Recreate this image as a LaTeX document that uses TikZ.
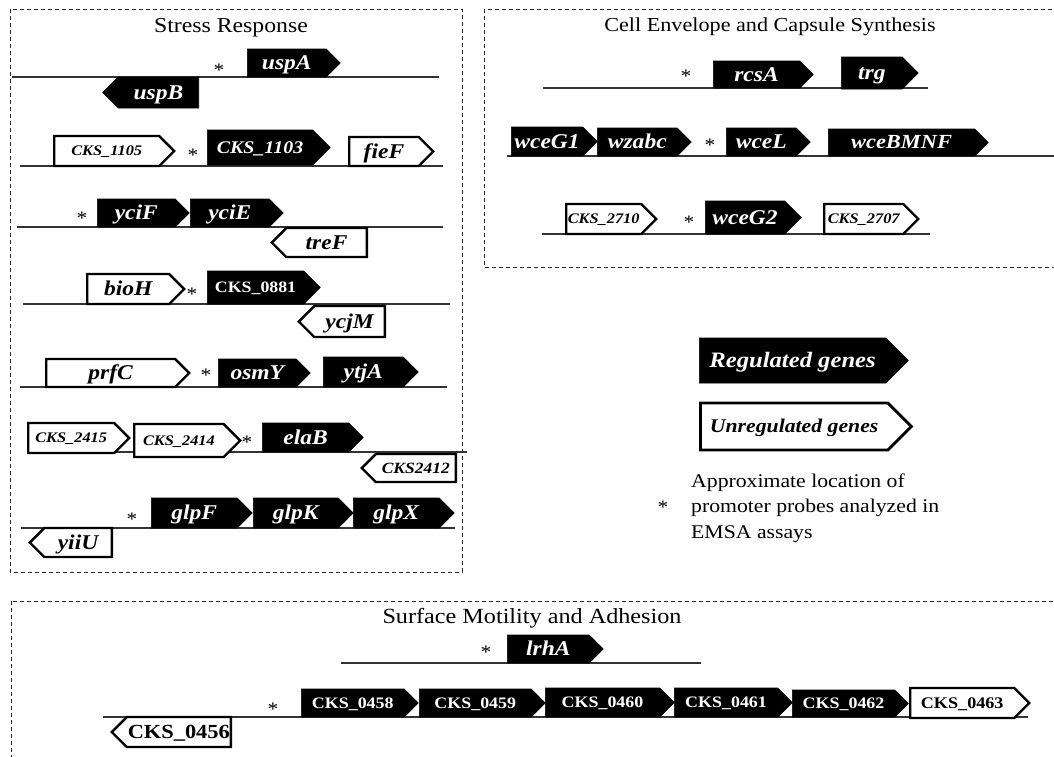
\documentclass[tikz,border=0pt]{standalone}
\usepackage{fontspec}
\setmainfont{Liberation Serif}[FakeStretch=1.12]
\usetikzlibrary{shapes.symbols}
\tikzset{
  gene/.style={signal, signal to=east, signal from=nowhere, signal pointer angle=90, inner sep=0pt, anchor=west},
  reg/.style={gene, fill=black, draw=black, line width=0.6pt, text=white},
  unreg/.style={gene, fill=white, draw=black, line width=2.4pt, text=black},
  rev/.style={signal to=west, anchor=east},
  gi/.style={font=\fontsize{#1}{#1}\selectfont\bfseries\itshape, text height=\dimexpr #1pt*72/100\relax, text depth=\dimexpr #1pt*8/100\relax},
  gb/.style={font=\fontsize{#1}{#1}\selectfont\bfseries, text height=\dimexpr #1pt*72/100\relax, text depth=\dimexpr #1pt*8/100\relax},
  dna/.style={draw=black!80, line width=1.1pt},
  panel/.style={draw=black!85, line width=0.8pt, dash pattern=on 4pt off 3pt},
  title/.style={font=\fontsize{#1}{#1}\selectfont, inner sep=0pt},
  probe/.style={font=\fontsize{19}{19}\selectfont, inner sep=0pt},
}
\begin{document}
\begin{tikzpicture}[x=1pt,y=-1pt]
\useasboundingbox (0,0) rectangle (1054,756);
\fill[white] (0,0) rectangle (1054,756);
% panels
\coordinate (p1a) at (10,9); \coordinate (p1b) at (462,572);
\coordinate (p2a) at (484,9); \coordinate (p2b) at (1070,267);
\coordinate (p3a) at (11,601); \coordinate (p3b) at (1070,770);
\draw[panel] (p1a) rectangle (p1b);
\draw[panel] (p2a) rectangle (p2b);
\draw[panel] (p3a) rectangle (p3b);
\node[title=21.2] (t1) at (231,28) {Stress Response};
\node[title=19.8] (t2) at (770,27) {Cell Envelope and Capsule Synthesis};
\node[title=21.6] (t3) at (532,618) {Surface Motility and Adhesion};
% DNA lines
\foreach \n/\xa/\xb/\yy in {r1/12/439/77, r2/20/443/166, r3/17/443/227, r4/23/450/304, r5/20/447/387, r6/27/467/452, r7/21/455/528, c1/543/928/88, c2/507/1060/156, c3/542/930/234, s1/341/701/663, s2/103/1028/717}{
  \coordinate (\n a) at (\xa,\yy);
  \coordinate (\n b) at (\xb,\yy);
  \draw[dna] (\n a) -- (\n b);
}
% Stress response
\node[probe] (a1) at (219,70) {*};
\node[reg, gi=21, minimum width=93, minimum height=28] (uspA) at (247,63) {uspA};
\node[reg, rev, gi=21, minimum width=96, minimum height=31] (uspB) at (199,92.5) {uspB};
\node[unreg, gi=14.6, minimum width=120, minimum height=30] (cks1105) at (53,151) {CKS\_1105};
\node[probe] (a2) at (193,155) {*};
\node[reg, gi=17.8, minimum width=123, minimum height=35] (cks1103) at (207,147.5) {CKS\_1103};
\node[unreg, gi=21, minimum width=84, minimum height=29] (fieF) at (348,151.5) {fieF};
\node[probe] (a3) at (82,218) {*};
\node[reg, gi=21, minimum width=92, minimum height=28] (yciF) at (97,213) {yciF};
\node[reg, gi=21, minimum width=93, minimum height=28] (yciE) at (190,213) {yciE};
\node[unreg, rev, gi=21, minimum width=95, minimum height=29] (treF) at (368,242.5) {treF};
\node[unreg, gi=21, minimum width=97, minimum height=30] (bioH) at (86,289) {bioH};
\node[probe] (a4) at (192,294) {*};
\node[reg, gb=15.9, minimum width=113, minimum height=33] (cks0881) at (207,287.5) {CKS\_0881};
\node[unreg, rev, gi=21, minimum width=86, minimum height=31] (ycjM) at (386,321.5) {ycjM};
\node[unreg, gi=21, minimum width=143, minimum height=28] (prfC) at (45,373) {prfC};
\node[probe] (a5) at (206,375) {*};
\node[reg, gi=21, minimum width=92, minimum height=28] (osmY) at (218,373) {osmY};
\node[reg, gi=21, minimum width=95, minimum height=30] (ytjA) at (323,372) {ytjA};
\node[unreg, gi=14.6, minimum width=101, minimum height=30] (cks2415) at (27,438) {CKS\_2415};
\node[unreg, gi=14.6, minimum width=106, minimum height=33] (cks2414) at (133,440.5) {CKS\_2414};
\node[probe] (a6) at (247,442) {*};
\node[reg, gi=21, minimum width=101, minimum height=29] (elaB) at (262,437.5) {elaB};
\node[unreg, rev, gi=15.6, minimum width=94, minimum height=28] (cks2412) at (457,468) {CKS2412};
\node[probe] (a7) at (132,519) {*};
\node[reg, gi=21, minimum width=101, minimum height=30] (glpF) at (151,513) {glpF};
\node[reg, gi=21, minimum width=100, minimum height=30] (glpK) at (253,513) {glpK};
\node[reg, gi=21, minimum width=101, minimum height=30] (glpX) at (353,513) {glpX};
\node[unreg, rev, gi=21, minimum width=82, minimum height=29] (yiiU) at (113,542.5) {yiiU};
% Cell envelope
\node[probe] (b1) at (686,76) {*};
\node[reg, gi=21, minimum width=100, minimum height=27] (rcsA) at (713,74.5) {rcsA};
\node[reg, gi=21, minimum width=77, minimum height=32] (trg) at (841,73) {trg};
\node[reg, gi=21, minimum width=86, minimum height=29] (wceG1) at (511,141.5) {wceG1};
\node[reg, gi=21, minimum width=94, minimum height=28] (wzabc) at (597,142) {wzabc};
\node[probe] (b2) at (710,145) {*};
\node[reg, gi=21, minimum width=84, minimum height=28] (wceL) at (726,142) {wceL};
\node[reg, gi=20, minimum width=160, minimum height=27] (wceBMNF) at (828,142.5) {wceBMNF};
\node[unreg, gi=14.6, minimum width=90, minimum height=30] (cks2710) at (565,219) {CKS\_2710};
\node[probe] (b3) at (689,222) {*};
\node[reg, gi=21, minimum width=96, minimum height=33] (wceG2) at (705,217.5) {wceG2};
\node[unreg, gi=14.6, minimum width=94, minimum height=30] (cks2707) at (823,219) {CKS\_2707};
% Legend
\node[reg, gi=22, minimum width=209, minimum height=45] (lreg) at (699,360.5) {Regulated genes};
\node[unreg, gi=19.4, line width=2.8pt, minimum width=211, minimum height=47] (lunreg) at (699,426.5) {Unregulated genes};
\node[font=\fontsize{19.4}{25.5}\selectfont, align=left, anchor=west, inner sep=0pt] (ltext) at (691,508) {Approximate location of\\promoter probes analyzed in\\EMSA assays};
\node[probe] (lstar) at (663,507) {*};
% Surface motility
\node[probe] (d1) at (486,652) {*};
\node[reg, gi=21, minimum width=96, minimum height=28] (lrhA) at (507,649) {lrhA};
\node[probe] (d2) at (273,709) {*};
\node[reg, gb=16, minimum width=117, minimum height=28] (cks0458) at (301,703) {CKS\_0458};
\node[reg, gb=16, minimum width=126, minimum height=28] (cks0459) at (419,703) {CKS\_0459};
\node[reg, gb=16, minimum width=129, minimum height=29] (cks0460) at (545,702.5) {CKS\_0460};
\node[reg, gb=16, minimum width=118, minimum height=29] (cks0461) at (674,702.5) {CKS\_0461};
\node[reg, gb=16, minimum width=116, minimum height=27] (cks0462) at (792,703.5) {CKS\_0462};
\node[unreg, gb=16.2, minimum width=119, minimum height=30] (cks0463) at (909,703) {CKS\_0463};
\node[unreg, rev, gb=20, minimum width=119, minimum height=30] (cks0456) at (232,732) {CKS\_0456};
\end{tikzpicture}
\end{document}
